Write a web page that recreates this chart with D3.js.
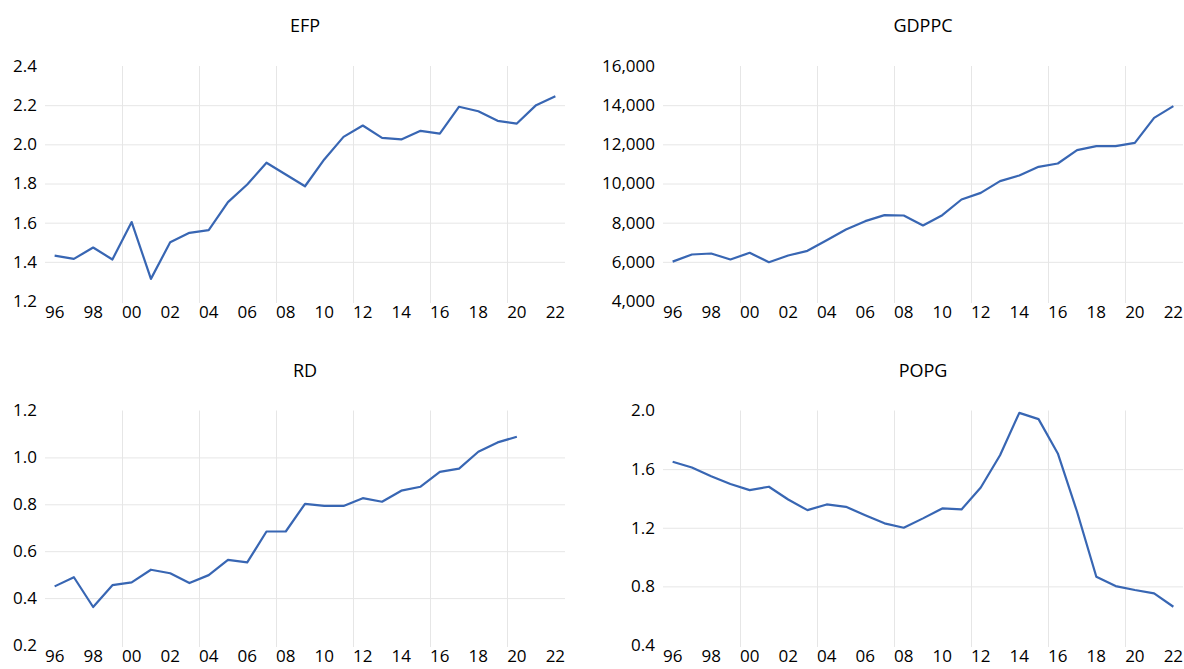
<!DOCTYPE html>
<html>
<head>
<meta charset="utf-8">
<script src="https://cdn.jsdelivr.net/npm/d3@7"></script>
<style>
  html, body { margin: 0; padding: 0; background: #fff; }
  svg { display: block; }
  text { font-family: "Open Sans", "Noto Sans", sans-serif; fill: #000; }
</style>
</head>
<body>
<svg id="chart" width="1184" height="669"></svg>
<script>
// ---------- data ----------
const years = [1996,1997,1998,1999,2000,2001,2002,2003,2004,2005,2006,2007,2008,2009,
               2010,2011,2012,2013,2014,2015,2016,2017,2018,2019,2020,2021,2022];
const labelYears = [1996,1998,2000,2002,2004,2006,2008,2010,2012,2014,2016,2018,2020,2022];
const gridYears = [2000,2004,2008,2012,2016,2020];

const efp = [1.432,1.415,1.473,1.412,1.603,1.313,1.500,1.548,1.562,1.705,1.795,1.906,1.846,1.786,
             1.923,2.038,2.096,2.033,2.025,2.069,2.055,2.192,2.169,2.120,2.106,2.200,2.246];
const gdppc = [6010,6374,6426,6119,6460,5983,6323,6562,7106,7651,8077,8383,8366,7855,
               8383,9183,9523,10119,10409,10851,11021,11702,11906,11906,12077,13353,13949];
const rd = [0.450,0.489,0.362,0.455,0.467,0.521,0.506,0.464,0.498,0.563,0.552,0.684,0.684,0.802,
            0.793,0.793,0.826,0.811,0.858,0.875,0.938,0.952,1.024,1.064,1.088,null,null];
const popg = [1.650,1.611,1.552,1.498,1.457,1.480,1.393,1.320,1.359,1.343,1.286,1.230,1.200,1.264,
              1.332,1.325,1.475,1.695,1.984,1.941,1.707,1.309,0.866,0.802,0.775,0.752,0.661];

const efpTicks = [1.2,1.4,1.6,1.8,2.0,2.2,2.4];
const gdppcTicks = [4000,6000,8000,10000,12000,14000,16000];
const rdTicks = [0.2,0.4,0.6,0.8,1.0,1.2];
const popgTicks = [0.4,0.8,1.2,1.6,2.0];

// ---------- layout ----------
const panels = [
  { title: "EFP",   values: efp,   ticks: efpTicks,   fmt: d3.format(".1f"), left: 45,  top: 66,    bottom: 301 },
  { title: "GDPPC", values: gdppc, ticks: gdppcTicks, fmt: d3.format(","),   left: 663, top: 66,    bottom: 301 },
  { title: "RD",    values: rd,    ticks: rdTicks,    fmt: d3.format(".1f"), left: 45,  top: 410.5, bottom: 645 },
  { title: "POPG",  values: popg,  ticks: popgTicks,  fmt: d3.format(".1f"), left: 663, top: 410.5, bottom: 645 }
];
const plotW = 520;
const lineColor = "#3866b3";
const gridColor = "#e6e6e6";

const svg = d3.select("#chart");

panels.forEach(p => {
  const g = svg.append("g");
  const x = d3.scaleBand().domain(years).range([p.left, p.left + plotW]).padding(0);
  const y = d3.scaleLinear().domain(d3.extent(p.ticks)).range([p.bottom, p.top]);
  const cx = yr => x(yr) + x.bandwidth() / 2;

  // horizontal gridlines (interior)
  const inner = p.ticks.slice(1, -1);
  g.append("g")
    .attr("transform", `translate(${p.left},0)`)
    .call(d3.axisLeft(y).tickValues(inner).tickSize(-plotW).tickFormat(""))
    .call(s => s.select(".domain").remove())
    .call(s => s.selectAll("line").attr("stroke", gridColor).attr("stroke-width", 1));

  // vertical gridlines at year boundaries
  g.append("g")
    .selectAll("line")
    .data(gridYears)
    .join("line")
    .attr("x1", d => Math.round(x(d)) + 0.5)
    .attr("x2", d => Math.round(x(d)) + 0.5)
    .attr("y1", p.top)
    .attr("y2", p.bottom + 2)
    .attr("stroke", gridColor)
    .attr("stroke-width", 1);

  // y axis labels
  g.append("g")
    .attr("transform", `translate(${p.left - 8},0)`)
    .call(d3.axisLeft(y).tickValues(p.ticks).tickSize(0).tickPadding(0).tickFormat(p.fmt))
    .call(s => s.select(".domain").remove())
    .call(s => s.selectAll("text").style("font-size", "17px").attr("fill", "#000"));

  // x axis labels
  g.append("g")
    .attr("transform", `translate(0,${p.bottom + 5})`)
    .call(d3.axisBottom(x).tickValues(labelYears).tickSize(0).tickPadding(0)
      .tickFormat(d => String(d).slice(2)))
    .call(s => s.select(".domain").remove())
    .call(s => s.selectAll("text").style("font-size", "17px").attr("fill", "#000"));

  // line
  const pts = years.map((yr, i) => ({ yr, v: p.values[i] }));
  g.append("path")
    .datum(pts)
    .attr("fill", "none")
    .attr("stroke", lineColor)
    .attr("stroke-width", 2.2)
    .attr("stroke-linejoin", "round")
    .attr("d", d3.line().defined(d => d.v != null).x(d => cx(d.yr)).y(d => y(d.v)));

  // title
  g.append("text")
    .attr("x", p.left + plotW / 2)
    .attr("y", p.top - 34)
    .attr("text-anchor", "middle")
    .style("font-size", "18px")
    .text(p.title);
});
</script>
</body>
</html>
